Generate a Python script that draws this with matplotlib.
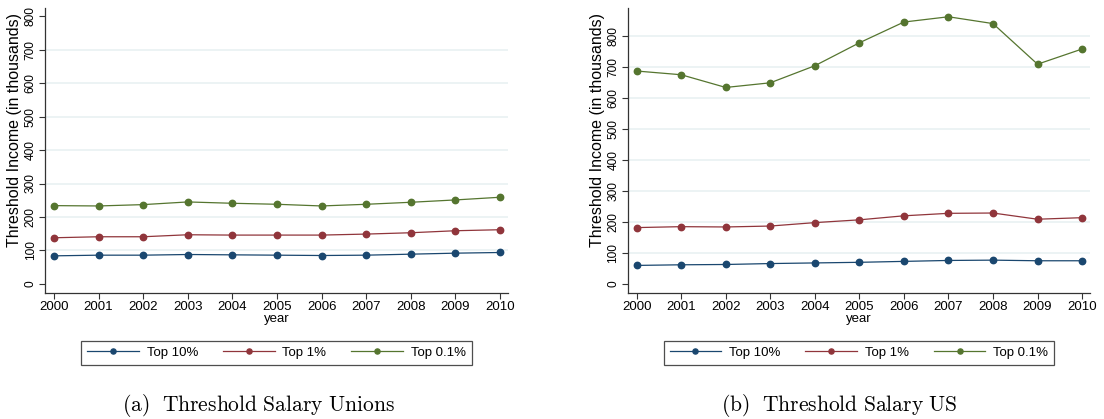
import matplotlib.pyplot as plt

years = list(range(2000, 2011))

# Unions thresholds (thousands)
unions_top10 = [84, 86, 86, 88, 87, 86, 85, 86, 89, 92, 94]
unions_top1 = [138, 141, 141, 147, 146, 146, 146, 149, 153, 159, 162]
unions_top01 = [234, 233, 237, 245, 241, 238, 233, 238, 244, 251, 259]

# US thresholds (thousands)
us_top10 = [60, 62, 63, 66, 68, 70, 73, 76, 77, 75, 75]
us_top1 = [182, 185, 184, 187, 198, 207, 220, 228, 229, 209, 214]
us_top01 = [687, 675, 634, 649, 704, 778, 845, 862, 840, 709, 758]

series_labels = ["Top 10%", "Top 1%", "Top 0.1%"]
colors = ["#1a476f", "#90353b", "#55752f"]
yticks = [0, 100, 200, 300, 400, 500, 600, 700, 800]

plt.rcParams['font.family'] = ['Liberation Sans', 'DejaVu Sans']
plt.rcParams['mathtext.fontset'] = 'cm'

fig = plt.figure(figsize=(11.04, 4.19), dpi=100)
ax1 = fig.add_axes([0.0408, 0.3007, 0.4194, 0.680])
ax2 = fig.add_axes([0.5686, 0.3007, 0.4188, 0.680])


def rysuj(ax, dane, ylim):
    for y, kolor, etykieta in zip(dane, colors, series_labels):
        ax.plot(years, y, color=kolor, lw=0.9, marker='o', markersize=4.6,
                label=etykieta, zorder=3)
    ax.set_xlim(1999.8, 2010.18)
    ax.set_ylim(*ylim)
    ax.set_xticks(years)
    ax.set_yticks(yticks)
    ax.set_yticklabels([str(t) for t in yticks], rotation=90, va='center',
                       fontsize=8.6)
    for t in yticks:
        if 0 < t < ylim[1] - 30:
            ax.axhline(t, color='#eaf2f3', lw=1.3, zorder=1)
    for s in ['top', 'right']:
        ax.spines[s].set_visible(False)
    for s in ['left', 'bottom']:
        ax.spines[s].set_color('#333333')
        ax.spines[s].set_linewidth(0.9)
    ax.tick_params(axis='both', length=4, width=0.8, color='#333333', pad=2)
    ax.tick_params(axis='x', labelsize=9.5)
    ax.set_xlabel("year", fontsize=9.5, labelpad=0)
    ax.set_ylabel("Threshold Income (in thousands)", fontsize=11.5)
    ax.yaxis.set_label_coords(-0.05, 0.572)
    leg = ax.legend(loc='upper center', bbox_to_anchor=(0.5, -0.145), ncol=3,
                    frameon=True, fancybox=False, fontsize=9.5,
                    handlelength=3.9, handletextpad=0.6, columnspacing=1.9,
                    borderpad=0.45, edgecolor='#222222', markerscale=0.8)
    leg.get_frame().set_linewidth(0.9)


rysuj(ax1, [unions_top10, unions_top1, unions_top01], (-27, 824))
rysuj(ax2, [us_top10, us_top1, us_top01], (-29, 890))

# podpisy pod wykresami
fig.text(258 / 1104, 1 - 405 / 419, r"$\mathrm{(a)\ \ Threshold\ Salary\ Unions}$",
         ha='center', va='center', fontsize=15.5)
fig.text(839 / 1104, 1 - 405 / 419, r"$\mathrm{(b)\ \ Threshold\ Salary\ US}$",
         ha='center', va='center', fontsize=15.5)

fig.savefig("out.png", dpi=100)
